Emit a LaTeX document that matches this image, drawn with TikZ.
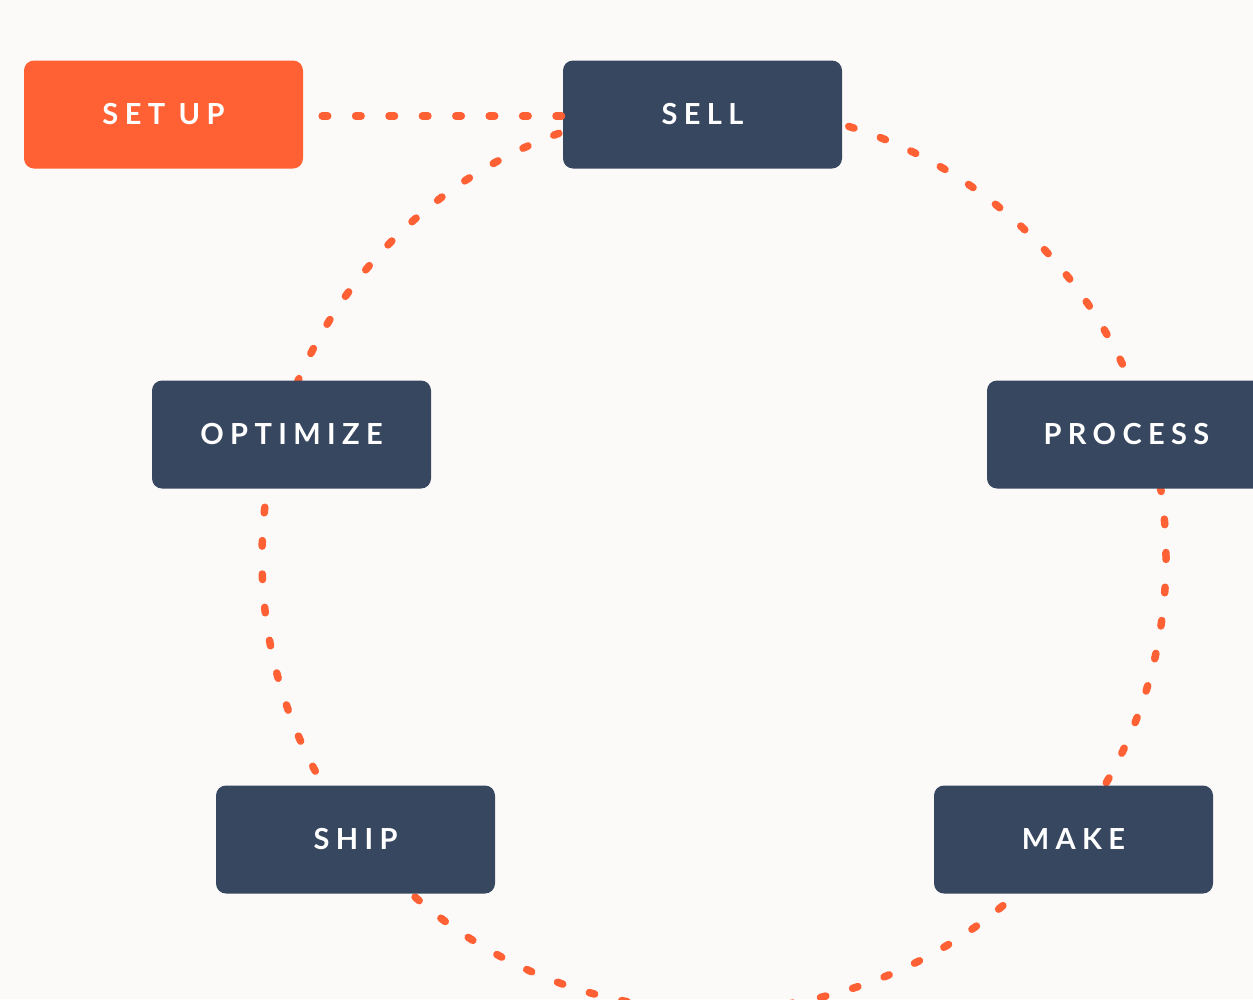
\documentclass[tikz,border=0pt]{standalone}
\usepackage{fontspec}
\newfontfamily\boxfont[LetterSpace=22]{Lato}
\definecolor{bgc}{HTML}{FCFAF9}
\definecolor{navy}{HTML}{36475F}
\definecolor{orng}{HTML}{FF6034}
\tikzset{
  stagebox/.style={rectangle, rounded corners=10pt, minimum width=279pt, minimum height=108pt,
    fill=navy, text=white, inner sep=0pt, font=\boxfont\bfseries\fontsize{29}{29}\selectfont},
  startbox/.style={stagebox, fill=orng},
  dotline/.style={draw=orng, line width=7.5pt, line cap=round, dash pattern=on 5.5pt off 27.9pt}
}
\begin{document}
\begin{tikzpicture}[x=1pt,y=-1pt]
\fill[bgc] (0,0) rectangle (1253,999);
\clip (0,0) rectangle (1253,999);
\useasboundingbox (0,0) rectangle (1253,999);
\coordinate (c) at (714,558);
\draw[dotline] (c) circle (452pt);
\node[startbox] (setup) at (163.5,114.5) {SET UP};
\node[stagebox] (sell) at (702.5,114.5) {SELL};
\node[stagebox] (optimize) at (291.5,434.5) {OPTIMIZE};
\node[stagebox] (process) at (1126.5,434.5) {PROCESS};
\node[stagebox] (ship) at (355.5,839.5) {SHIP};
\node[stagebox] (make) at (1073.5,839.5) {MAKE};
\draw[dotline] ([yshift=-1.5pt]setup.east) ++(19pt,0) -- ([yshift=-1.5pt]sell.west);
\end{tikzpicture}
\end{document}
